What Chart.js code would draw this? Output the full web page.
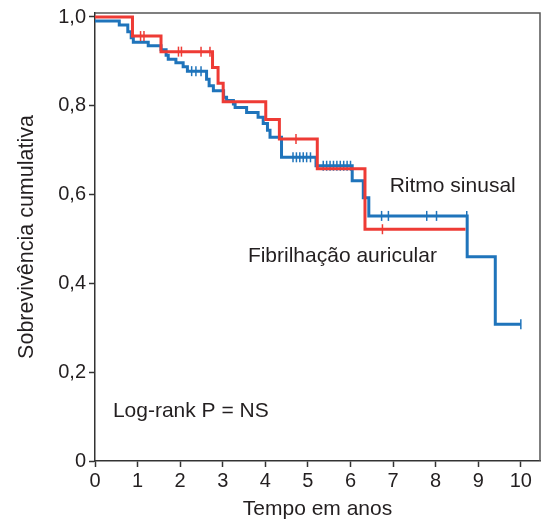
<!DOCTYPE html>
<html>
<head>
<meta charset="utf-8">
<script src="https://cdn.jsdelivr.net/npm/chart.js@4/dist/chart.umd.min.js"></script>
<style>
  html, body { margin: 0; padding: 0; background: #fff; }
  #wrap { width: 541px; height: 520px; position: relative; }
</style>
</head>
<body>
<div id="wrap"><canvas id="c"></canvas></div>
<script>
// ---- Data ----
const xTickValues = [0, 1, 2, 3, 4, 5, 6, 7, 8, 9, 10];
const yTickValues = [0, 0.2, 0.4, 0.6, 0.8, 1.0];
const yTickLabels = ['0', '0,2', '0,4', '0,6', '0,8', '1,0'];

const seriesNames = ['Ritmo sinusal', 'Fibrilhação auricular'];

// Ritmo sinusal (blue) step curve: time of each drop and survival after it
const rsTimes  = [0, 0.57, 0.77, 0.85, 0.90, 1.25, 1.55, 1.67, 1.72, 1.90, 2.07, 2.17, 2.62, 2.68, 2.78, 3.02, 3.09, 3.25, 3.29, 3.56, 3.83, 3.95, 4.05, 4.11, 4.38, 5.19, 6.04, 6.30, 6.43, 8.74, 9.40, 10.0];
const rsValues = [0.991, 0.982, 0.967, 0.953, 0.943, 0.935, 0.926, 0.914, 0.905, 0.897, 0.888, 0.878, 0.860, 0.845, 0.834, 0.819, 0.812, 0.804, 0.796, 0.785, 0.774, 0.760, 0.745, 0.729, 0.684, 0.665, 0.631, 0.593, 0.552, 0.460, 0.308, 0.308];
// Ritmo sinusal censored observations
const rsCensorTimes  = [2.27, 2.37, 2.49, 4.65, 4.73, 4.81, 4.89, 4.97, 5.06, 5.36, 5.44, 5.52, 5.60, 5.68, 5.76, 5.84, 5.92, 6.00, 6.73, 6.89, 7.79, 8.02, 8.73, 10.0];
const rsCensorValues = [0.878, 0.878, 0.878, 0.684, 0.684, 0.684, 0.684, 0.684, 0.684, 0.665, 0.665, 0.665, 0.665, 0.665, 0.665, 0.665, 0.665, 0.665, 0.552, 0.552, 0.552, 0.552, 0.552, 0.308];

// Fibrilhação auricular (red) step curve
const faTimes  = [0, 0.88, 1.55, 2.76, 2.89, 3.01, 4.01, 4.33, 5.22, 6.34, 8.70];
const faValues = [1.0, 0.957, 0.922, 0.886, 0.851, 0.809, 0.769, 0.725, 0.658, 0.522, 0.522];
const faCensorTimes  = [1.07, 1.15, 1.96, 2.03, 2.49, 2.70, 4.72, 6.75];
const faCensorValues = [0.957, 0.957, 0.922, 0.922, 0.922, 0.922, 0.725, 0.522];

// Text annotations (data coordinates)
const annotations = [
  { text: 'Ritmo sinusal', x: 6.92, y: 0.619 },
  { text: 'Fibrilhação auricular', x: 3.59, y: 0.462 },
  { text: 'Log-rank P = NS', x: 0.42, y: 0.113 }
];

const BLUE = '#1f74bb';
const RED = '#ee3b35';
const TEXT = '#231f20';
const FONT = "'Liberation Sans', Arial, Helvetica, sans-serif";

const toPts = (xs, ys) => xs.map((x, i) => ({ x: x, y: ys[i] }));

const frame = {
  id: 'frame',
  afterDraw(chart) {
    const { ctx, chartArea: a, scales } = chart;
    ctx.save();
    ctx.strokeStyle = '#555';
    ctx.lineWidth = 1.5;
    ctx.beginPath();
    ctx.moveTo(a.left, a.top);
    ctx.lineTo(a.right, a.top);
    ctx.lineTo(a.right, a.bottom);
    ctx.stroke();
    ctx.fillStyle = TEXT;
    ctx.font = '21px ' + FONT;
    ctx.textBaseline = 'middle';
    ctx.textAlign = 'left';
    annotations.forEach(t => {
      ctx.fillText(t.text, scales.x.getPixelForValue(t.x), scales.y.getPixelForValue(t.y));
    });
    ctx.restore();
  }
};

new Chart(document.getElementById('c'), {
  type: 'scatter',
  data: {
    datasets: [
      { label: seriesNames[1], data: toPts(faTimes, faValues), showLine: true, stepped: true,
        borderColor: RED, borderWidth: 3, pointRadius: 0, fill: false },
      { label: seriesNames[1] + ' (c)', data: toPts(faCensorTimes, faCensorValues), showLine: false,
        pointStyle: 'line', rotation: 90, pointRadius: 5, borderColor: RED, backgroundColor: RED, pointBorderWidth: 1.5 },
      { label: seriesNames[0], data: toPts(rsTimes, rsValues), showLine: true, stepped: true,
        borderColor: BLUE, borderWidth: 3, pointRadius: 0, fill: false },
      { label: seriesNames[0] + ' (c)', data: toPts(rsCensorTimes, rsCensorValues), showLine: false,
        pointStyle: 'line', rotation: 90, pointRadius: 5, borderColor: BLUE, backgroundColor: BLUE, pointBorderWidth: 1.5 }
    ]
  },
  options: {
    responsive: true,
    maintainAspectRatio: false,
    animation: false,
    events: [],
    layout: { autoPadding: false, padding: { top: 13, right: 1, left: 0, bottom: 0 } },
    plugins: { legend: { display: false }, tooltip: { enabled: false } },
    scales: {
      x: {
        type: 'linear', min: 0, max: 10.45,
        afterBuildTicks: s => { s.ticks = xTickValues.map(v => ({ value: v })); },
        afterFit: s => { s.height = 59; s.paddingLeft = 0; s.paddingRight = 0; },
        ticks: { color: TEXT, font: { family: FONT, size: 20 }, padding: 2, maxRotation: 0,
                 callback: v => String(v) },
        grid: { drawOnChartArea: false, drawTicks: true, tickLength: 6, tickColor: '#333', tickWidth: 1.5 },
        border: { display: true, color: '#333', width: 1.5 },
        title: { display: true, text: 'Tempo em anos', color: TEXT, font: { family: FONT, size: 21, lineHeight: 1 }, padding: { top: 0, bottom: 0 } }
      },
      y: {
        type: 'linear', min: 0, max: 1.009,
        afterBuildTicks: s => { s.ticks = yTickValues.map(v => ({ value: v })); },
        afterFit: s => { s.width = 95; s.paddingTop = 0; s.paddingBottom = 0; },
        ticks: { color: TEXT, font: { family: FONT, size: 20 }, padding: 3,
                 callback: (v) => { const i = yTickValues.findIndex(t => Math.abs(t - v) < 1e-6); return i >= 0 ? yTickLabels[i] : ''; } },
        grid: { drawOnChartArea: false, drawTicks: true, tickLength: 6, tickColor: '#333', tickWidth: 1.5 },
        border: { display: true, color: '#333', width: 1.5 },
        title: { display: true, text: 'Sobrevivência cumulativa', color: TEXT, font: { family: FONT, size: 21.5 }, padding: { top: 14, bottom: 0 } }
      }
    }
  },
  plugins: [frame]
});
</script>
</body>
</html>
